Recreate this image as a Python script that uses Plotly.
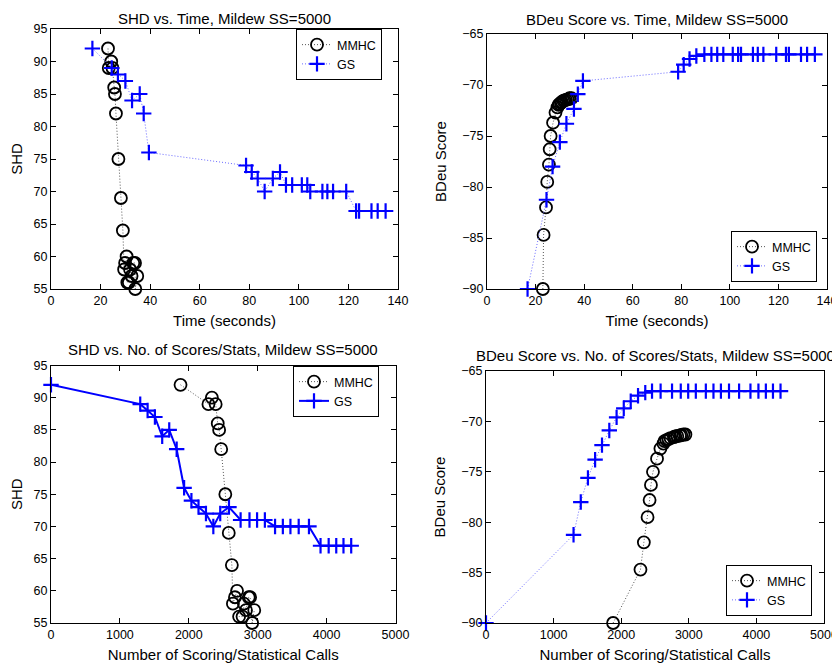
import plotly.graph_objects as go

# ---------------- data ----------------
gs_time = [16.7, 24.5, 27.0, 30.0, 32.7, 35.8, 37.4, 39.5, 78.7, 81.0, 83.4, 86.2, 89.5, 92.4,
           94.8, 97.3, 101.2, 103.4, 104.6, 109.5, 111.5, 113.8, 119.1, 123.1, 124.3, 129.3, 131.8, 135.0]
gs_calls = [0, 1295, 1402, 1508, 1614, 1716, 1824, 1932, 2038, 2141, 2249, 2356, 2456, 2583,
            2752, 2881, 2991, 3104, 3252, 3365, 3475, 3595, 3744, 3912, 4030, 4140, 4245, 4357]
gs_shd = [92, 89, 88, 87, 84, 85, 82, 76, 74, 73, 72, 70, 72, 73,
          71, 71, 71, 71, 70, 70, 70, 70, 70, 67, 67, 67, 67, 67]
gs_bdeu = [-90.0, -81.25, -78.0, -75.6, -73.8, -72.35, -70.9, -69.6, -68.7, -68.0, -67.45, -67.15, -67.0, -67.0,
           -67.0, -67.0, -67.0, -67.0, -67.0, -67.0, -67.0, -67.0, -67.0, -67.0, -67.0, -67.0, -67.0, -67.0]

mmhc_time = [23.0, 23.3, 24.3, 24.8, 25.5, 25.8, 26.2, 27.2, 28.2, 29.0, 29.5,
             29.9, 30.5, 30.8, 31.4, 31.9, 32.5, 33.2, 33.9, 34.0, 34.8]
mmhc_calls = [1880, 2285, 2335, 2390, 2420, 2440, 2470, 2530, 2580, 2625, 2640,
              2670, 2700, 2730, 2780, 2800, 2830, 2870, 2890, 2920, 2950]
mmhc_shd = [92, 89, 90, 89, 86, 85, 82, 75, 69, 64, 58,
            59, 60, 56, 56, 58, 57, 59, 59, 55, 57]
mmhc_bdeu = [-90.0, -84.7, -82.0, -79.5, -77.8, -76.3, -75.0, -73.7, -72.7, -72.2, -71.95,
             -71.85, -71.75, -71.65, -71.55, -71.5, -71.45, -71.4, -71.35, -71.3, -71.3]

titles = ["SHD vs. Time, Mildew SS=5000",
          "BDeu Score vs. Time, Mildew SS=5000",
          "SHD vs. No. of Scores/Stats, Mildew SS=5000",
          "BDeu Score vs. No. of Scores/Stats, Mildew SS=5000"]
x_titles = ["Time (seconds)", "Time (seconds)",
            "Number of Scoring/Statistical Calls", "Number of Scoring/Statistical Calls"]
y_titles = ["SHD", "BDeu Score", "SHD", "BDeu Score"]

# ---------------- layout geometry (pixels, page coordinates) ----------------
OFF = 8                      # default page body margin
W, H = 840 - OFF, 669 - OFF  # figure fits inside the window
FONT = "Liberation Sans, Arial, Helvetica, sans-serif"
# (left, right, top, bottom) of each plot box in page pixels
boxes = [(51, 398, 29, 289), (487, 827, 34, 289), (51, 395.5, 365.5, 623), (486, 824, 371, 623)]
title_y = [18, 19, 350, 355]
legend_pos = [(382, 29, "right", "top"), (817, 282, "right", "bottom"),
              (379, 366, "right", "top"), (812, 616, "right", "bottom")]


def px(xp):
    return (xp - OFF) / W


def py(yp):
    return 1 - (yp - OFF) / H


xranges = [[0, 140], [0, 140], [0, 5000], [0, 5000]]
yranges = [[55, 95], [-90, -65], [55, 95], [-90, -65]]
xdt = [20, 20, 1000, 1000]
ydt = [5, 5, 5, 5]

series = [
    (mmhc_time, mmhc_shd, gs_time, gs_shd, "dot"),
    (mmhc_time, mmhc_bdeu, gs_time, gs_bdeu, "dot"),
    (mmhc_calls, mmhc_shd, gs_calls, gs_shd, "solid"),
    (mmhc_calls, mmhc_bdeu, gs_calls, gs_bdeu, "dot"),
]

fig = go.Figure()
layout = dict(template="none", width=W, height=H, autosize=False, margin=dict(l=0, r=0, t=0, b=0, pad=0),
              paper_bgcolor="white", plot_bgcolor="white",
              font=dict(family=FONT, size=12, color="black"), annotations=[])

for i in range(4):
    s = "" if i == 0 else str(i + 1)
    lg = "legend" if i == 0 else "legend" + str(i + 1)
    mx, my, gx, gy, gdash = series[i]
    fig.add_trace(go.Scatter(
        x=mx, y=my, name="MMHC", mode="lines+markers", xaxis="x" + s, yaxis="y" + s, legend=lg,
        line=dict(color="#555555", width=1, dash="1px,2px"),
        marker=dict(symbol="circle-open", size=12, color="black", line=dict(width=1.8, color="black")),
        cliponaxis=False))
    if gdash == "solid":
        gline = dict(color="#0000FF", width=2)
    else:
        gline = dict(color="#6a6aFF", width=1, dash="1px,2px")
    fig.add_trace(go.Scatter(
        x=gx, y=gy, name="GS", mode="lines+markers", xaxis="x" + s, yaxis="y" + s, legend=lg,
        line=gline,
        marker=dict(symbol="cross-thin-open", size=11, color="#0000FF", line=dict(width=2.2, color="#0000FF")),
        cliponaxis=False))

    l, r, t, b = boxes[i]
    axcommon = dict(showgrid=False, zeroline=False, showline=True, linecolor="black", linewidth=1,
                    mirror="ticks", ticks="inside", ticklen=5, tickwidth=1, tickcolor="black",
                    automargin=False,
                    tickfont=dict(family=FONT, size=12.5, color="black"))
    layout["xaxis" + s] = dict(axcommon, domain=[px(l), px(r)], range=xranges[i], dtick=xdt[i], tick0=0,
                               anchor="y" + s,
                               title=dict(text=x_titles[i], font=dict(family=FONT, size=15), standoff=8))
    layout["yaxis" + s] = dict(axcommon, domain=[py(b), py(t)], range=yranges[i], dtick=ydt[i],
                               anchor="x" + s,
                               title=dict(text=y_titles[i], font=dict(family=FONT, size=15), standoff=12))
    lx, ly, xa, ya = legend_pos[i]
    layout[lg] = dict(x=px(lx), y=py(ly), xanchor=xa, yanchor=ya, xref="paper", yref="paper",
                      bordercolor="black", borderwidth=1, bgcolor="white",
                      font=dict(family=FONT, size=12.5), tracegroupgap=0, itemwidth=30)
    layout["annotations"].append(dict(text=titles[i], x=px((l + r) / 2), y=py(title_y[i]),
                                      xref="paper", yref="paper", xanchor="center", yanchor="middle",
                                      showarrow=False, font=dict(family=FONT, size=15)))

fig.update_layout(**layout)
fig.write_html("out.html")
